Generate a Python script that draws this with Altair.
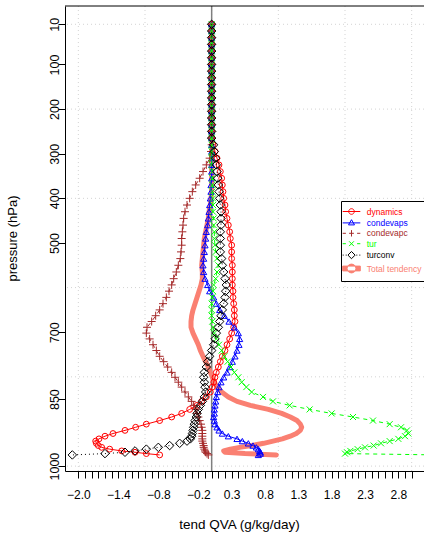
import altair as alt
import pandas as pd

FONT = "Liberation Sans"

# pressure levels (hPa)
levels = [10, 25, 40, 55, 70, 85, 100, 115, 130, 145,
          160, 175, 190, 205, 220, 235, 250, 265, 280, 295,
          310, 325, 340, 355, 370, 385, 400, 415, 430, 445,
          460, 475, 490, 505, 520, 535, 550, 565, 580, 594,
          608, 622, 636, 650, 663, 676, 689, 702, 715, 728,
          741, 754, 766, 778, 790, 801, 812, 823, 834, 845,
          855, 864, 873, 882, 890, 898, 906, 913, 920, 927,
          933, 939, 944, 949, 954, 958, 962, 966, 969, 972,
          975]

dynamics = [0, 0, 0, 0, 0, 0, 0, 0, 0, 0,
            0, 0, 0, 0, 0, 0, 0, 0, 0.02, 0.05,
            0.08, 0.11, 0.13, 0.15, 0.16, 0.17, 0.18, 0.20, 0.21, 0.23,
            0.25, 0.27, 0.28, 0.30, 0.30, 0.30, 0.31, 0.31, 0.31, 0.31,
            0.32, 0.32, 0.33, 0.34, 0.34, 0.35, 0.33, 0.30, 0.27, 0.23,
            0.20, 0.16, 0.13, 0.10, 0.07, 0.05, 0.03, 0.01, -0.02, -0.08,
            -0.15, -0.22, -0.33, -0.45, -0.60, -0.78, -0.98, -1.14, -1.30, -1.48,
            -1.60, -1.69, -1.74, -1.73, -1.70, -1.65, -1.53, -1.35, -1.15, -0.98,
            -0.78]

condevaps = [0, 0, 0, 0, 0, 0, 0, 0, 0, 0,
             0, 0, 0, 0, 0, 0, 0, 0, 0, 0,
             0, 0, 0, 0, -0.01, -0.01, -0.02, -0.03, -0.04, -0.05,
             -0.06, -0.08, -0.09, -0.10, -0.11, -0.12, -0.13, -0.12, -0.10, -0.06,
             -0.03, 0.03, 0.07, 0.12, 0.19, 0.26, 0.34, 0.40, 0.42, 0.41,
             0.38, 0.35, 0.31, 0.27, 0.23, 0.18, 0.14, 0.11, 0.09, 0.07,
             0.06, 0.05, 0.04, 0.04, 0.03, 0.04, 0.05, 0.08, 0.11, 0.16,
             0.25, 0.38, 0.46, 0.55, 0.62, 0.67, 0.70, 0.72, 0.73, 0.73,
             0.70]

condevapc = [0, 0, 0, 0, 0, 0, 0, 0, 0, 0,
             0, 0, 0, 0, 0, 0, 0, 0, 0, -0.01,
             -0.03, -0.08, -0.13, -0.18, -0.24, -0.29, -0.33, -0.37, -0.40, -0.42,
             -0.43, -0.44, -0.45, -0.45, -0.46, -0.47, -0.50, -0.53, -0.57, -0.60,
             -0.64, -0.68, -0.73, -0.78, -0.84, -0.90, -0.97, -0.98, -0.93, -0.88,
             -0.83, -0.78, -0.72, -0.66, -0.60, -0.55, -0.50, -0.45, -0.40, -0.35,
             -0.30, -0.27, -0.24, -0.22, -0.20, -0.18, -0.16, -0.15, -0.14, -0.14,
             -0.14, -0.14, -0.14, -0.13, -0.12, -0.12, -0.11, -0.10, -0.09, -0.07,
             -0.05]

tur = [0, 0, 0, 0, 0, 0, 0, 0, 0, 0,
       0, 0, 0, 0, 0, 0, 0, 0, 0, 0,
       0, 0, 0.01, 0.01, 0.01, 0.01, 0.02, 0.02, 0.02, 0.03,
       0.03, 0.04, 0.04, 0.05, 0.06, 0.08, 0.10, 0.08, 0.06, 0.03,
       0.02, 0.01, 0.00, 0.00, 0.00, 0.01, 0.02, 0.04, 0.07, 0.11,
       0.15, 0.19, 0.24, 0.29, 0.34, 0.40, 0.45, 0.52, 0.60, 0.77,
       0.92, 1.17, 1.47, 1.80, 2.12, 2.42, 2.67, 2.84, 2.93, 2.95,
       2.90, 2.80, 2.67, 2.54, 2.43, 2.30, 2.19, 2.08, 2.03, 2.00,
       3.40]

turconv = [0, 0, 0, 0, 0, 0, 0, 0, 0, 0,
           0, 0, 0, 0, 0, 0, 0, 0, 0.03, 0.04,
           0.06, 0.07, 0.08, 0.09, 0.10, 0.11, 0.12, 0.13, 0.14, 0.14,
           0.14, 0.13, 0.13, 0.13, 0.13, 0.15, 0.16, 0.18, 0.20, 0.22,
           0.21, 0.20, 0.18, 0.16, 0.14, 0.12, 0.10, 0.07, 0.05, 0.03,
           0.00, -0.03, -0.06, -0.08, -0.11, -0.12, -0.11, -0.10, -0.09, -0.11,
           -0.14, -0.17, -0.20, -0.22, -0.23, -0.25, -0.26, -0.27, -0.28, -0.29,
           -0.30, -0.32, -0.37, -0.48, -0.63, -0.80, -0.98, -1.15, -1.30, -1.60,
           -2.09]

total = [0, 0, 0, 0, 0, 0, 0, 0, 0, 0,
         0, 0, 0, 0, 0, 0, 0, 0, 0, 0,
         0, 0, 0, 0, 0, 0, -0.01, -0.02, -0.04, -0.05,
         -0.07, -0.09, -0.11, -0.12, -0.13, -0.14, -0.15, -0.14, -0.14, -0.16,
         -0.19, -0.22, -0.25, -0.28, -0.30, -0.31, -0.31, -0.28, -0.24, -0.20,
         -0.17, -0.13, -0.09, -0.05, -0.02, 0.01, 0.04, 0.08, 0.15, 0.25,
         0.38, 0.58, 0.85, 1.05, 1.18, 1.28, 1.33, 1.35, 1.33, 1.27,
         1.18, 1.06, 0.92, 0.78, 0.60, 0.42, 0.28, 0.18, 0.20, 0.50,
         0.97]

series_names = ["dynamics", "condevaps", "condevapc", "tur", "turconv", "Total tendency"]
series_values = [dynamics, condevaps, condevapc, tur, turconv, total]
series_colors = ["#ff0000", "#0000ff", "#a52a2a", "#00ff00", "#000000", "#fa8072"]

x_tick_values = [-2.0, -1.9, -1.8, -1.7, -1.6, -1.5, -1.4, -1.3, -1.2, -1.1,
                 -1.0, -0.9, -0.8, -0.7, -0.6, -0.5, -0.4, -0.3, -0.2, -0.1,
                 0.0, 0.1, 0.2, 0.3, 0.4, 0.5, 0.6, 0.7, 0.8, 0.9,
                 1.0, 1.1, 1.2, 1.3, 1.4, 1.5, 1.6, 1.7, 1.8, 1.9,
                 2.0, 2.1, 2.2, 2.3, 2.4, 2.5, 2.6, 2.7, 2.8, 2.9, 3.0]
x_label_values = [-2.0, -1.4, -0.8, -0.2, 0.3, 0.8, 1.3, 1.8, 2.3, 2.8]
y_tick_values = [10, 100, 200, 300, 400, 500, 700, 850, 1000]
x_grid = [-2, -1, 0, 1, 2, 3]
y_grid = [10, 200, 400, 600, 800, 1000]
zero_line = [0]

# styles
line_dash = [None, None, [4, 4], [4, 4], [1, 3], None]
line_width = [1, 1, 1, 1, 1, 5]
marker_shape = ["circle", "triangle-up", "M-1,0L1,0M0,-1L0,1",
                "M-1,-1L1,1M-1,1L1,-1", "M0,-1L1,0L0,1L-1,0Z", None]
marker_size = [34, 38, 64, 36, 72, 0]

legend_paths = [
    "M-2.2,0L2.2,0M-0.7,0A0.7,0.7,0,1,0,0.7,0A0.7,0.7,0,1,0,-0.7,0",
    "M-2.2,0L2.2,0M0,-0.8L0.75,0.5L-0.75,0.5Z",
    "M-2.2,0L-1.4,0M-0.6,0L0.6,0M1.4,0L2.2,0M0,-0.8L0,0.8",
    "M-2.2,0L-1.4,0M1.4,0L2.2,0M-0.6,-0.6L0.6,0.6M-0.6,0.6L0.6,-0.6",
    "M-2.2,0L-1.95,0M-1.45,0L-1.2,0M1.2,0L1.45,0M1.95,0L2.2,0M0,-0.9L0.9,0L0,0.9L-0.9,0Z",
    "M-2.2,-0.6L2.2,-0.6L2.2,0.6L-2.2,0.6ZM-1.1,0A1.1,1.1,0,1,0,1.1,0A1.1,1.1,0,1,0,-1.1,0Z",
]
legend_fills = ["transparent"] * 5 + ["#fa8072"]

W, H = 359, 465

xs = alt.Scale(domain=[-2.2, 3.185], nice=False, zero=False)
ys = alt.Scale(domain=[-31, 1011], reverse=True, nice=False, zero=False)

codes = ",".join(str(int(round(v * 10))) for v in x_label_values)
x_axis = alt.Axis(
    values=x_tick_values,
    labelExpr=f"indexof([{codes}], round(datum.value*10)) >= 0 ? format(datum.value, '.1f') : ''",
    title="tend QVA (g/kg/day)", grid=False, tickSize=7, tickColor="black",
    domainColor="black", labelColor="black", labelFont=FONT, labelFontSize=12,
    labelPadding=11, labelOverlap=False, labelFlush=False,
    titleFont=FONT, titleFontSize=13.5, titleFontWeight="normal", titleColor="black",
    titleX=174, titleY=57, titleBaseline="alphabetic", titleAlign="center",
)
y_axis = alt.Axis(
    values=y_tick_values, format="d", title="pressure (hPa)", grid=False, tickSize=7,
    tickColor="black", domainColor="black", labelColor="black",
    labelFont=FONT, labelFontSize=12.5, labelAngle=270, labelAlign="center",
    labelBaseline="alphabetic", labelPadding=-0.5, labelOverlap=False,
    titleFont=FONT, titleFontSize=13, titleFontWeight="normal", titleColor="black",
    titleAngle=270, titleX=-53, titleY=232, titleBaseline="middle", titleAlign="center",
)
X = alt.X("v:Q", scale=xs, axis=x_axis)
Y = alt.Y("p:Q", scale=ys, axis=y_axis)

layers = []
layers.append(alt.Chart(pd.DataFrame({"v": x_grid})).mark_rule(
    color="#d3d3d3", strokeDash=[1, 3], strokeWidth=1).encode(x=X))
layers.append(alt.Chart(pd.DataFrame({"p": y_grid})).mark_rule(
    color="#d3d3d3", strokeDash=[1, 3], strokeWidth=1).encode(y=Y))

layers.append(alt.Chart(pd.DataFrame({"v": zero_line})).mark_rule(
    color="#7f7f7f", strokeWidth=1.5).encode(x=X))

df_tot = pd.DataFrame({"p": levels, "v": total})
layers.append(alt.Chart(df_tot).mark_line(
    color=series_colors[5], strokeWidth=5, strokeCap="round", strokeJoin="round",
    clip=True).encode(x=X, y=Y, order=alt.Order("p:Q")))

for i in range(5):
    df = pd.DataFrame({"p": levels, "v": series_values[i]})
    lk = dict(color=series_colors[i], strokeWidth=line_width[i], clip=True)
    if line_dash[i] is not None:
        lk["strokeDash"] = line_dash[i]
    layers.append(alt.Chart(df).mark_line(**lk).encode(x=X, y=Y, order=alt.Order("p:Q")))
    layers.append(alt.Chart(df).mark_point(
        shape=marker_shape[i], size=marker_size[i], color=series_colors[i],
        filled=False, strokeWidth=1, opacity=1, clip=True).encode(x=X, y=Y))

# top border of the plot box
layers.append(alt.Chart(pd.DataFrame({"a": [0]})).mark_rule(
    color="black", strokeWidth=1).encode(x=alt.value(0), x2=alt.value(W), y=alt.value(0)))

# legend (invisible marks, visible legend)
color_expr = ""
for n, c in zip(series_names[:-1], series_colors[:-1]):
    color_expr += f"datum.value == '{n}' ? '{c}' : "
color_expr += f"'{series_colors[-1]}'"

leg = alt.Legend(
    title=None, orient="none", legendX=276, legendY=195, direction="vertical",
    fillColor="white", strokeColor="black", padding=6, cornerRadius=0,
    symbolSize=64, symbolStrokeWidth=1, symbolOpacity=1, symbolOffset=0,
    labelOffset=10.7, rowPadding=0.4, labelFont=FONT, labelFontSize=8.5,
    labelColor={"expr": color_expr}, labelLimit=300,
)
df_leg = pd.DataFrame({"series": series_names, "p": [levels[0]] * 6,
                       "v": [s[0] for s in series_values]})
layers.append(alt.Chart(df_leg).mark_point(filled=False, opacity=0, size=64, strokeWidth=1).encode(
    x=X, y=Y,
    shape=alt.Shape("series:N", scale=alt.Scale(domain=series_names, range=legend_paths), legend=leg),
    stroke=alt.Stroke("series:N", scale=alt.Scale(domain=series_names, range=series_colors), legend=leg),
    fill=alt.Fill("series:N", scale=alt.Scale(domain=series_names, range=legend_fills), legend=leg),
))

chart = alt.layer(*layers).properties(
    width=W, height=H,
    padding={"left": 65, "top": 6, "right": 0, "bottom": 62},
    autosize=alt.AutoSizeParams(type="none"),
    background="white",
).configure_view(stroke=None)

chart.save("out.html", embed_options={"renderer": "svg", "actions": False})
